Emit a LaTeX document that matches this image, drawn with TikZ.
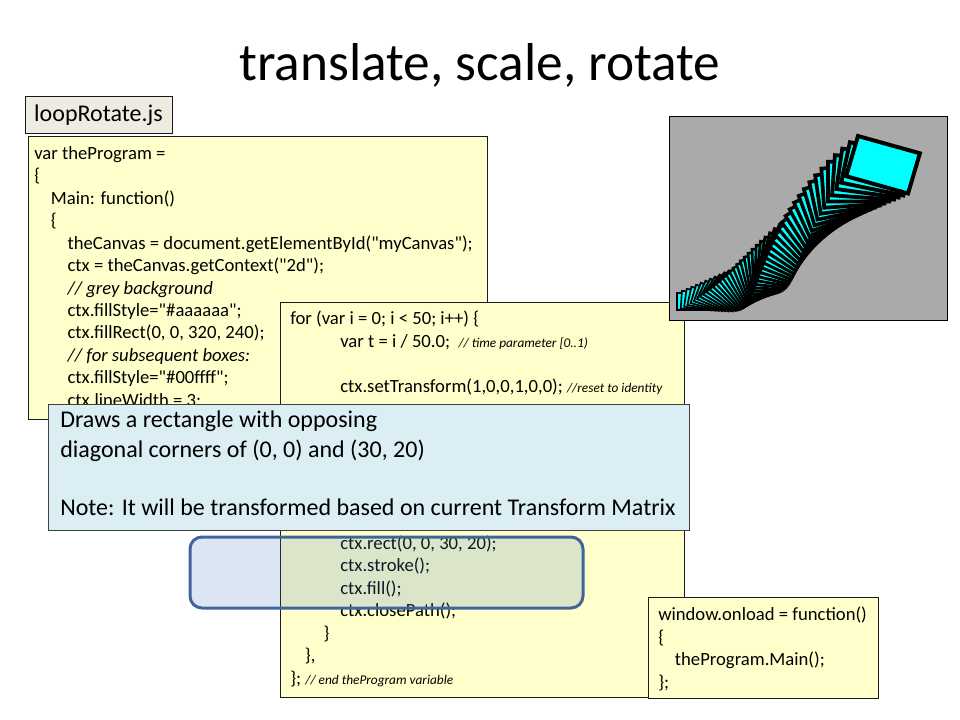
\documentclass[tikz,border=0pt]{standalone}
\usepackage{fontspec}
\setmainfont{Carlito}
\setmonofont{Carlito}
\definecolor{codeyellow}{HTML}{FFFFCC}
\definecolor{noteblue}{HTML}{DAEEF3}
\definecolor{tagbeige}{HTML}{EEECE1}
\definecolor{canvasgrey}{HTML}{AAAAAA}
\definecolor{boxcyan}{HTML}{00FFFF}
\definecolor{ringblue}{HTML}{41659A}
\definecolor{ringfill}{HTML}{4F81BD}
\newcommand{\cmt}[1]{{\fontsize{10}{12}\selectfont\itshape #1}}
\newcommand{\dq}{{\ttfamily"}}

\begin{document}
\begin{tikzpicture}[x=0.75pt,y=-0.75pt,
  code/.style={anchor=north west,inner sep=0pt,align=left,font=\fontsize{14}{16.85}\selectfont},
  panel/.style={draw=black!90,line width=0.75pt}]
  \useasboundingbox (0,0) rectangle (960,720);

  \node (title) at (480,65) {\fontsize{40}{44}\selectfont translate, scale, rotate};

  %file name tag
  \filldraw[panel,fill=tagbeige] (25,97) rectangle (172,134);
  \node (tag) at (98.5,115.5) {\fontsize{18}{22}\selectfont loopRotate.js};

  %main code
  \filldraw[panel,fill=codeyellow] (28,137) rectangle (487,419);
  \node[code] (maincode) at (34,146) {var theProgram =\\
    \{\\
    \hspace*{12.5pt}Main: function()\\
    \hspace*{12.5pt}\{\\
    \hspace*{25pt}theCanvas = document.getElementById(\dq myCanvas\dq);\\
    \hspace*{25pt}ctx = theCanvas.getContext(\dq 2d\dq);\\
    \hspace*{25pt}\textit{// grey background}\\
    \hspace*{25pt}ctx.fillStyle=\dq\#aaaaaa\dq;\\
    \hspace*{25pt}ctx.fillRect(0, 0, 320, 240);\\
    \hspace*{25pt}\textit{// for subsequent boxes:}\\
    \hspace*{25pt}ctx.fillStyle=\dq\#00ffff\dq;\\
    \hspace*{25pt}ctx.lineWidth = 3;};

  %loop code
  \filldraw[panel,fill=codeyellow] (280,303) rectangle (684,697);
  \node[code] (loopcode) at (290,311) {for (var i = 0; i < 50; i++) \{\\
    \hspace*{37.5pt}var t = i / 50.0;\ \ \cmt{// time parameter [0..1)}\\
    \mbox{}\\
    \hspace*{37.5pt}ctx.setTransform(1,0,0,1,0,0); \cmt{//reset to identity}\\[101pt]
    \hspace*{37.5pt}ctx.rect(0, 0, 30, 20);\\
    \hspace*{37.5pt}ctx.stroke();\\
    \hspace*{37.5pt}ctx.fill();\\
    \hspace*{37.5pt}ctx.closePath();\\
    \hspace*{25pt}\}\\
    \hspace*{11pt}\},\\
    \};\ \cmt{// end theProgram variable}};

  %spinning boxes on the canvas
  \begin{scope}[shift={(669,117)},xscale=0.869,yscale=0.846]
    \fill[canvasgrey] (0,0) rectangle (320,240);
    \foreach \i in {0,...,49}{
      \pgfmathsetmacro{\tm}{\i/50}
      \pgfmathsetmacro{\sc}{1+1.5*\tm}
      \pgfmathsetmacro{\ang}{200*\tm}
      \pgfmathsetmacro{\ox}{9.5+271*\tm}
      \pgfmathsetmacro{\oy}{208-120*\tm}
      \pgfmathsetmacro{\lw}{1.2*\sc}
      \filldraw[fill=boxcyan,line width=\lw pt,line join=miter]
        (\ox,\oy) -- ++({30*\sc*cos(\ang)},{30*\sc*sin(\ang)})
        -- ++({-20*\sc*sin(\ang)},{20*\sc*cos(\ang)})
        -- ++({-30*\sc*cos(\ang)},{-30*\sc*sin(\ang)}) -- cycle;
    }
  \end{scope}
  \draw[black,line width=0.75pt] (669,117) rectangle (947,320);

  %note
  \filldraw[panel,fill=noteblue,draw=black!75] (48,404) rectangle (689,530);
  \node[code,font=\fontsize{18}{22}\selectfont] (note) at (60,411) {Draws a rectangle with opposing\\
    diagonal corners of (0, 0) and (30, 20)\\
    \mbox{}\\
    Note: It will be transformed based on current Transform Matrix};

  %highlight
  \draw[ringblue,line width=2.25pt,rounded corners=9pt,fill=ringfill,fill opacity=0.2] (190,537) rectangle (583,608);

  %onload code
  \filldraw[panel,fill=codeyellow] (648,597) rectangle (878,698);
  \node[code] (onload) at (658,607) {window.onload = function()\\
    \{\\
    \hspace*{12.5pt}theProgram.Main();\\
    \};};
\end{tikzpicture}
\end{document}
